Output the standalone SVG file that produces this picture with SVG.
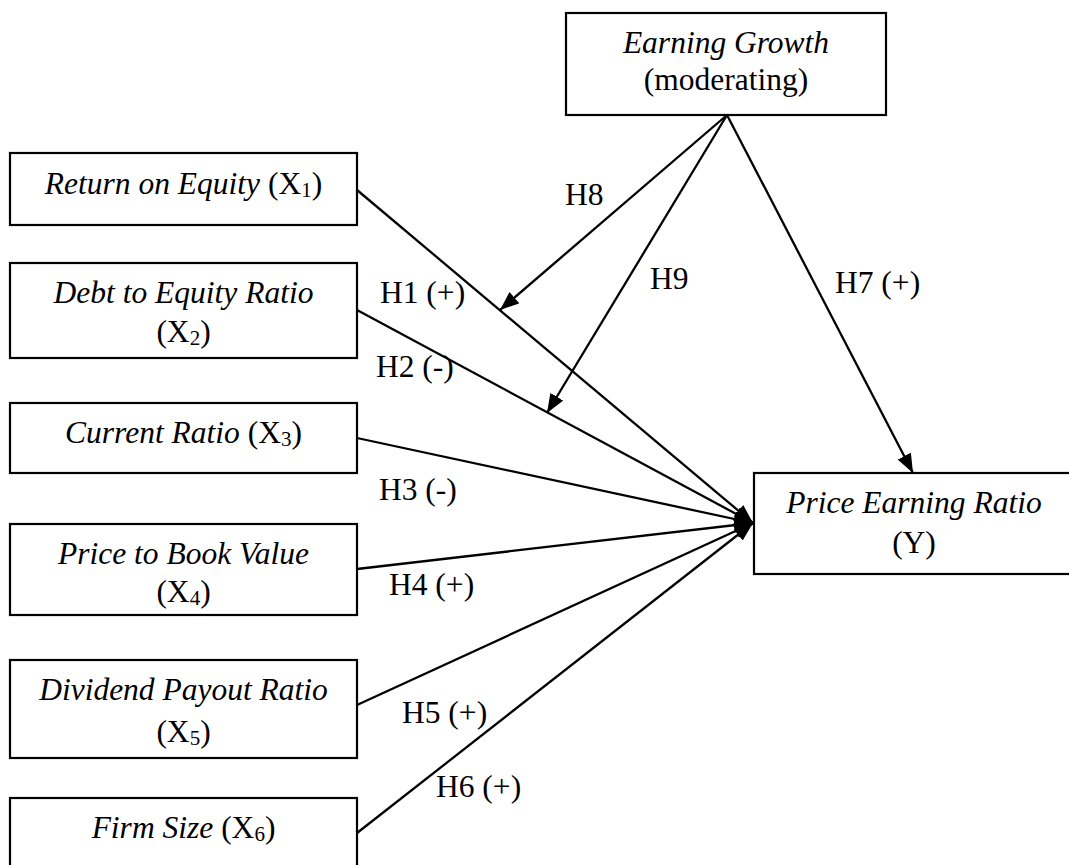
<svg xmlns="http://www.w3.org/2000/svg" width="1069" height="865" viewBox="0 0 1069 865" font-family="'Liberation Serif', 'Times New Roman', 'DejaVu Serif', serif">
<style>
text{font-family:'Liberation Serif','Times New Roman','DejaVu Serif',serif;font-size:31.5px;fill:#000}
.box{fill:#fff;stroke:#000;stroke-width:2.2}
.t{text-anchor:middle}
.i{font-style:italic}
.sub{font-size:21px}
.c{stroke:#000;stroke-width:2.3;fill:none;marker-end:url(#ah)}
</style>
<defs>
<marker id="ah" markerUnits="userSpaceOnUse" markerWidth="20" markerHeight="16" refX="19" refY="7.5" orient="auto">
<path d="M0,0 L19,7.5 L0,15 Z" fill="#000"/>
</marker>
</defs>
<rect width="1069" height="865" fill="#fff"/>
<g id="connectors">
<line class="c" x1="357" y1="190" x2="753" y2="523"/>
<line class="c" x1="357" y1="310" x2="753" y2="523"/>
<line class="c" x1="357" y1="438" x2="753" y2="523"/>
<line class="c" x1="357" y1="569" x2="753" y2="523"/>
<line class="c" x1="357" y1="705" x2="753" y2="523"/>
<line class="c" x1="357" y1="833" x2="753" y2="523"/>
<line class="c" x1="727" y1="115" x2="913" y2="473"/>
<line class="c" x1="727" y1="115" x2="500" y2="310"/>
<line class="c" x1="727" y1="115" x2="547" y2="413"/>
</g>
<g id="labels">
<text x="380" y="303">H1 (+)</text>
<text x="376" y="377">H2 (-)</text>
<text x="379" y="500">H3 (-)</text>
<text x="389" y="595">H4 (+)</text>
<text x="402" y="723">H5 (+)</text>
<text x="436" y="797">H6 (+)</text>
<text x="835" y="293">H7 (+)</text>
<text x="565" y="205">H8</text>
<text x="650" y="289">H9</text>
</g>
<g id="earning-growth">
<rect class="box" x="566" y="13" width="320" height="102"/>
<text class="t i" x="726" y="53">Earning Growth</text>
<text class="t" x="726" y="90">(moderating)</text>
</g>
<g id="roe">
<rect class="box" x="10" y="153" width="347" height="72"/>
<text class="t" x="183.5" y="194"><tspan class="i">Return on Equity</tspan> (X<tspan class="sub" dy="3">1</tspan><tspan dy="-3">)</tspan></text>
</g>
<g id="der">
<rect class="box" x="10" y="263" width="347" height="95"/>
<text class="t i" x="183.5" y="303">Debt to Equity Ratio</text>
<text class="t" x="183.5" y="342">(X<tspan class="sub" dy="3">2</tspan><tspan dy="-3">)</tspan></text>
</g>
<g id="cr">
<rect class="box" x="10" y="403" width="347" height="70"/>
<text class="t" x="183.5" y="443"><tspan class="i">Current Ratio</tspan> (X<tspan class="sub" dy="3">3</tspan><tspan dy="-3">)</tspan></text>
</g>
<g id="pbv">
<rect class="box" x="10" y="524" width="347" height="91"/>
<text class="t i" x="183.5" y="564">Price to Book Value</text>
<text class="t" x="183.5" y="602">(X<tspan class="sub" dy="3">4</tspan><tspan dy="-3">)</tspan></text>
</g>
<g id="dpr">
<rect class="box" x="10" y="660" width="347" height="98"/>
<text class="t i" x="183.5" y="700">Dividend Payout Ratio</text>
<text class="t" x="183.5" y="742">(X<tspan class="sub" dy="3">5</tspan><tspan dy="-3">)</tspan></text>
</g>
<g id="fs">
<rect class="box" x="10" y="798" width="347" height="80"/>
<text class="t" x="183.5" y="838"><tspan class="i">Firm Size</tspan> (X<tspan class="sub" dy="3">6</tspan><tspan dy="-3">)</tspan></text>
</g>
<g id="per">
<rect class="box" x="754" y="473" width="330" height="101"/>
<text class="t i" x="914" y="513">Price Earning Ratio</text>
<text class="t" x="914" y="553">(Y)</text>
</g>
</svg>
